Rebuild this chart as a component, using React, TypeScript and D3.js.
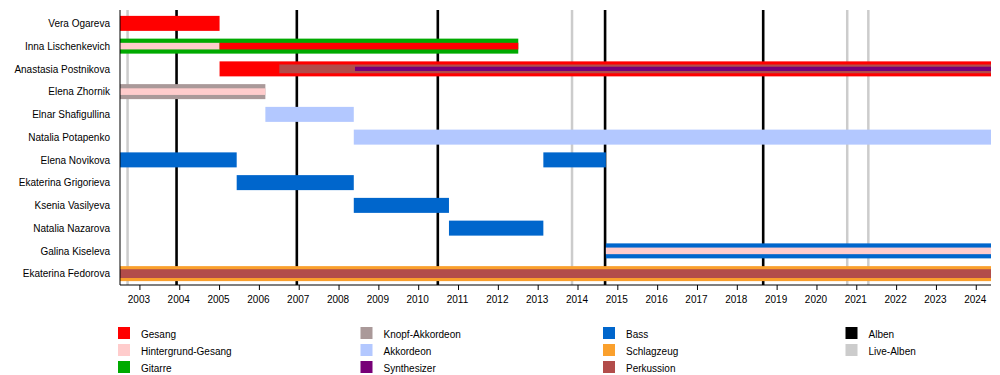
import React from "react";
import * as d3 from "d3";

const members = [
  "Vera Ogareva",
  "Inna Lischenkevich",
  "Anastasia Postnikova",
  "Elena Zhornik",
  "Elnar Shafigullina",
  "Natalia Potapenko",
  "Elena Novikova",
  "Ekaterina Grigorieva",
  "Ksenia Vasilyeva",
  "Natalia Nazarova",
  "Galina Kiseleva",
  "Ekaterina Fedorova",
];

const roles = [
  "Gesang",
  "Hintergrund-Gesang",
  "Gitarre",
  "Knopf-Akkordeon",
  "Akkordeon",
  "Synthesizer",
  "Bass",
  "Schlagzeug",
  "Perkussion",
];
const roleColors = [
  "#ff0000",
  "#ffcccc",
  "#00aa00",
  "#aa9999",
  "#b3c8ff",
  "#770077",
  "#0066cc",
  "#faa02d",
  "#b24c4a",
];

const START = 2002.5;
const END = 2024.37;

// member, role, from, to, overlay level (0 = main bar, 1/2 = overlays)
const periods: [string, string, number, number, number][] = [
  ["Vera Ogareva", "Gesang", START, 2005.0, 0],
  ["Inna Lischenkevich", "Gitarre", START, 2012.5, 0],
  ["Inna Lischenkevich", "Hintergrund-Gesang", START, 2005.0, 1],
  ["Inna Lischenkevich", "Gesang", 2005.0, 2012.5, 1],
  ["Anastasia Postnikova", "Gesang", 2005.0, END, 0],
  ["Anastasia Postnikova", "Perkussion", 2006.5, END, 1],
  ["Anastasia Postnikova", "Synthesizer", 2008.4, END, 2],
  ["Elena Zhornik", "Knopf-Akkordeon", START, 2006.15, 0],
  ["Elena Zhornik", "Hintergrund-Gesang", START, 2006.15, 1],
  ["Elnar Shafigullina", "Akkordeon", 2006.15, 2008.37, 0],
  ["Natalia Potapenko", "Akkordeon", 2008.37, END, 0],
  ["Elena Novikova", "Bass", START, 2005.43, 0],
  ["Elena Novikova", "Bass", 2013.13, 2014.7, 0],
  ["Ekaterina Grigorieva", "Bass", 2005.43, 2008.37, 0],
  ["Ksenia Vasilyeva", "Bass", 2008.37, 2010.76, 0],
  ["Natalia Nazarova", "Bass", 2010.76, 2013.13, 0],
  ["Galina Kiseleva", "Bass", 2014.7, END, 0],
  ["Galina Kiseleva", "Hintergrund-Gesang", 2014.7, END, 1],
  ["Ekaterina Fedorova", "Schlagzeug", START, END, 0],
  ["Ekaterina Fedorova", "Perkussion", START, END, 1],
];

const albums = [2003.92, 2006.94, 2010.48, 2014.68, 2018.65];
const liveAlbums = [2002.69, 2013.85, 2020.76, 2021.29];
const years = d3.range(2003, 2025);

const legendColumns: string[][] = [
  ["Gesang", "Hintergrund-Gesang", "Gitarre"],
  ["Knopf-Akkordeon", "Akkordeon", "Synthesizer"],
  ["Bass", "Schlagzeug", "Perkussion"],
  ["Alben", "Live-Alben"],
];

const W = 1000;
const H = 375;
const left = 120;
const right = 991;
const top = 10;
const bottom = 285;

export default function App() {
  const x = d3.scaleLinear().domain([START, END]).range([left, right]);
  const y = d3.scaleBand<string>().domain(members).range([12, bottom]).padding(0);
  const color = d3
    .scaleOrdinal<string, string>()
    .domain([...roles, "Alben", "Live-Alben"])
    .range([...roleColors, "#000000", "#cccccc"]);

  const barHeight = (role: string, level: number) => {
    if (level === 0) return 15;
    if (role === "Synthesizer") return 4.3;
    if (role === "Perkussion") return 8.8;
    return 6.6;
  };

  const sorted = [...periods].sort((a, b) => a[4] - b[4]);
  const font = "'Liberation Sans', Arial, Helvetica, sans-serif";

  return (
    <svg
      width={W}
      height={H}
      style={{ position: "absolute", left: 0, top: 0, display: "block", background: "#fff" }}
      fontFamily={font}
    >
      <rect x={0} y={0} width={W} height={H} fill="#fff" />
      {/* album lines (behind bars) */}
      {liveAlbums.map((d, i) => (
        <line key={"l" + i} x1={x(d)} x2={x(d)} y1={top} y2={bottom} stroke="#cccccc" strokeWidth={2.5} />
      ))}
      {albums.map((d, i) => (
        <line key={"a" + i} x1={x(d)} x2={x(d)} y1={top} y2={bottom} stroke="#000" strokeWidth={2.6} />
      ))}
      {/* bars */}
      {sorted.map(([m, role, from, to, level], i) => {
        const h = barHeight(role, level);
        const cy = (y(m) ?? 0) + y.bandwidth() / 2;
        return (
          <rect
            key={"b" + i}
            x={x(from)}
            y={cy - h / 2}
            width={x(to) - x(from)}
            height={h}
            fill={color(role)}
          />
        );
      })}
      {/* names */}
      {members.map((m) => (
        <text
          key={m}
          x={110}
          y={(y(m) ?? 0) + y.bandwidth() / 2 + 3.8}
          textAnchor="end"
          fontSize={10}
          fill="#000"
        >
          {m}
        </text>
      ))}
      {/* axes */}
      <line x1={left} x2={left} y1={top} y2={bottom} stroke="#000" strokeWidth={1} />
      <line x1={left} x2={right} y1={bottom} y2={bottom} stroke="#000" strokeWidth={1.2} />
      {years.map((yr) => (
        <g key={yr}>
          <line x1={x(yr)} x2={x(yr)} y1={bottom} y2={bottom + 5} stroke="#000" strokeWidth={1} />
          <text x={x(yr) - 1} y={303} textAnchor="middle" fontSize={10} fill="#000">
            {yr}
          </text>
        </g>
      ))}
      {/* legend */}
      {legendColumns.map((col, ci) =>
        col.map((name, ri) => {
          const lx = 118 + ci * 242.5;
          const ly = 327 + ri * 17;
          return (
            <g key={name}>
              <rect x={lx} y={ly} width={12} height={12} fill={color(name)} />
              <text x={lx + 23} y={ly + 10.5} fontSize={10} fill="#000">
                {name}
              </text>
            </g>
          );
        })
      )}
    </svg>
  );
}
